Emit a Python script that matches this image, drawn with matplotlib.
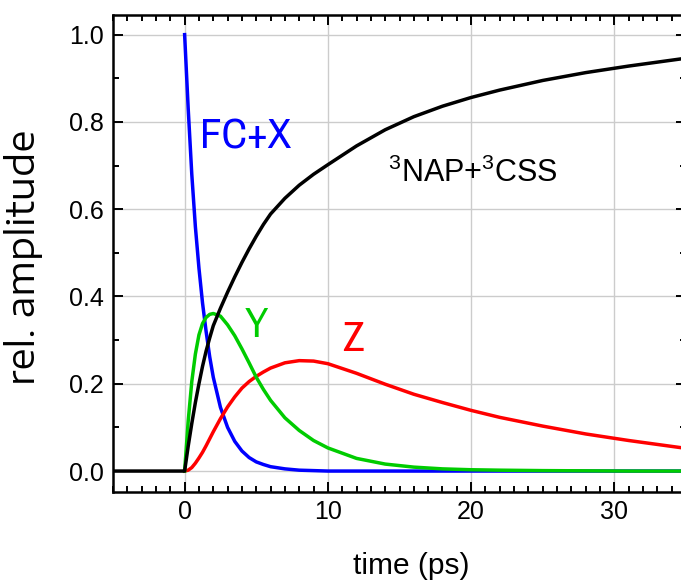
import matplotlib
matplotlib.use("Agg")
import matplotlib.pyplot as plt
from matplotlib.ticker import MultipleLocator, FormatStrFormatter
from matplotlib import font_manager

# ---- data ----
t_pos = [0, 0.25, 0.5, 0.75, 1, 1.25, 1.5, 1.75, 2, 2.5, 3, 3.5, 4, 4.5, 5, 5.5,
         6, 7, 8, 9, 10, 12, 14, 16, 18, 20, 22, 25, 28, 31, 35]
fc_x = [1.0, 0.83, 0.68, 0.56, 0.465, 0.385, 0.32, 0.262, 0.215, 0.146, 0.10,
        0.068, 0.046, 0.031, 0.021, 0.015, 0.010, 0.005, 0.002, 0.001, 0.0,
        0.0, 0.0, 0.0, 0.0, 0.0, 0.0, 0.0, 0.0, 0.0, 0.0]
y_sp = [0.0, 0.115, 0.205, 0.268, 0.312, 0.338, 0.352, 0.359, 0.361, 0.355,
        0.335, 0.31, 0.28, 0.248, 0.215, 0.187, 0.162, 0.122, 0.093, 0.07,
        0.053, 0.029, 0.016, 0.009, 0.005, 0.003, 0.002, 0.001, 0.0005, 0.0, 0.0]
z_sp = [0.0, 0.002, 0.008, 0.018, 0.03, 0.043, 0.058, 0.074, 0.09, 0.12,
        0.147, 0.17, 0.19, 0.205, 0.217, 0.227, 0.236, 0.248, 0.253, 0.252,
        0.246, 0.224, 0.199, 0.176, 0.157, 0.139, 0.123, 0.103, 0.085, 0.07,
        0.052]
t_black = [-5] + t_pos
triplet = [0.0, 0.0, 0.057, 0.109, 0.157, 0.2, 0.24, 0.275, 0.305, 0.333,
           0.373, 0.41, 0.445, 0.478, 0.509, 0.538, 0.565, 0.589, 0.625,
           0.655, 0.68, 0.702, 0.745, 0.782, 0.812, 0.836, 0.856, 0.873,
           0.895, 0.913, 0.928, 0.946]

x_major = [0, 10, 20, 30]
y_major = [0.0, 0.2, 0.4, 0.6, 0.8, 1.0]

avail = {f.name for f in font_manager.fontManager.ttflist}
regular = [f for f in ["Liberation Sans", "Arimo", "DejaVu Sans"] if f in avail]
narrow = [f for f in ["Archivo Narrow", "Roboto Condensed", "Liberation Sans", "DejaVu Sans"] if f in avail]
wide = [f for f in ["Encode Sans Expanded", "Encode Sans Semi Expanded", "DejaVu Sans"] if f in avail]
plt.rcParams['font.family'] = regular
plt.rcParams['mathtext.fontset'] = 'custom'
plt.rcParams['mathtext.rm'] = regular[0]
plt.rcParams['mathtext.it'] = regular[0]

fig = plt.figure(figsize=(6.81, 5.82), dpi=100)
ax = fig.add_axes([113/681, 1-492/582, (686-113)/681, (492-15)/582])

lw = 2.5
ax.plot(t_pos, fc_x, color="#0000FF", lw=lw, zorder=3, solid_joinstyle='round')
ax.plot(t_pos, z_sp, color="#FF0000", lw=lw, zorder=3, solid_joinstyle='round')
ax.plot(t_pos, y_sp, color="#00CC00", lw=lw, zorder=4, solid_joinstyle='round')
ax.plot(t_black, triplet, color="black", lw=lw, zorder=5, solid_joinstyle='round')

ax.set_xlim(-5, 35)
ax.set_ylim(-0.048, 1.045)
ax.set_xticks(x_major)
ax.set_yticks(y_major)
ax.xaxis.set_minor_locator(MultipleLocator(1))
ax.yaxis.set_minor_locator(MultipleLocator(0.1))
ax.yaxis.set_major_formatter(FormatStrFormatter('%.1f'))
ax.tick_params(which='both', direction='in', top=True, right=True, width=1.4,
               labelsize=18)
ax.tick_params(axis='y', pad=6.5)
ax.tick_params(axis='x', pad=6)
ax.tick_params(which='major', length=7)
ax.tick_params(which='minor', length=4)
for s in ax.spines.values():
    s.set_linewidth(1.8)
ax.grid(True, which='major', color='#cccccc', lw=1.0, zorder=0)
ax.set_axisbelow(True)

fig.text(411/681, 1-574/582, "time (ps)", fontsize=21.5, ha='center', va='baseline')
ylab = fig.text(35/681, 1-257/582, "rel. amplitude", fontsize=21.5, rotation=90,
                rotation_mode='anchor', ha='center', va='baseline', family=wide)
# fit the y label to the length it has in the reference (about 255 px)
renderer = fig.canvas.get_renderer()
h = ylab.get_window_extent(renderer).height
if h > 0:
    ylab.set_fontsize(21.5 * 255 / h)

ax.text(1.07, 0.74, "FC+X", color="#0000FF", fontsize=31, ha='left', va='baseline', family=narrow)
ax.text(4.2, 0.307, "Y", color="#00CC00", fontsize=31, ha='left', va='baseline', family=narrow)
ax.text(11.0, 0.275, "Z", color="#FF0000", fontsize=31, ha='left', va='baseline', family=narrow)
ax.text(14.2, 0.662, r"$^{3}$NAP+$^{3}$CSS", color="black", fontsize=22, ha='left', va='baseline')

fig.savefig("out.png", dpi=100)
